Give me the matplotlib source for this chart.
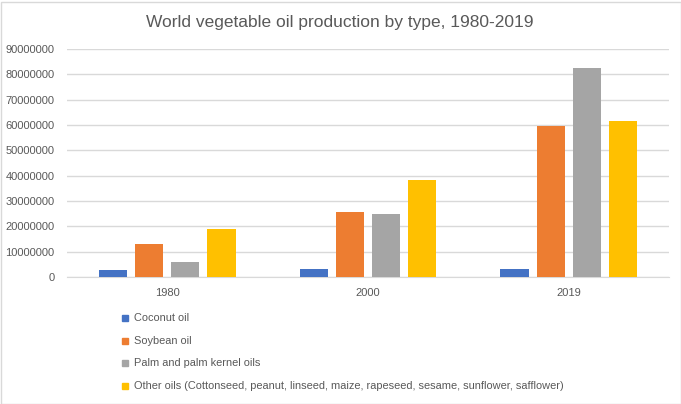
import numpy as np
import matplotlib.pyplot as plt
from matplotlib.patches import Rectangle

# 数据
years = ['1980', '2000', '2019']
series_names = ['Coconut oil', 'Soybean oil', 'Palm and palm kernel oils',
                'Other oils (Cottonseed, peanut, linseed, maize, rapeseed, sesame, sunflower, safflower)']
coconut = [2900000, 3200000, 3300000]
soybean = [13100000, 25700000, 59700000]
palm = [6000000, 24900000, 82600000]
other = [19000000, 38300000, 61500000]
colors = ['#4472C4', '#ED7D31', '#A5A5A5', '#FFC000']
yticks = np.arange(0, 90000001, 10000000)

plt.rcParams['font.family'] = ['Liberation Sans', 'DejaVu Sans']
text_color = '#595959'

fig = plt.figure(figsize=(6.81, 4.04), dpi=100)
W, H = 681, 404
ax = fig.add_axes([67 / W, 1 - 277 / H, (669 - 67) / W, (277 - 49) / H])

x = np.arange(len(years))
width = 0.14
step = 0.18
values = [coconut, soybean, palm, other]
for i, (vals, c) in enumerate(zip(values, colors)):
    ax.bar(x + (i - 1.5) * step, vals, width, color=c, zorder=3)

ax.set_xlim(-0.5, 2.5)
ax.set_ylim(0, 90000000)
ax.set_yticks(yticks)
ax.set_yticklabels([str(v) for v in yticks], fontsize=8, color=text_color)
ax.set_xticks(x)
ax.set_xticklabels(years, fontsize=8, color=text_color)
ax.tick_params(axis='both', length=0, pad=9)
ax.tick_params(axis='x', pad=8)
ax.grid(axis='y', color='#D9D9D9', linewidth=1, zorder=0)
for s in ['top', 'right', 'left']:
    ax.spines[s].set_visible(False)
ax.spines['bottom'].set_color('#D9D9D9')

fig.text(340 / W, 1 - 22 / H, 'World vegetable oil production by type, 1980-2019',
         ha='center', va='center', fontsize=12.5, color=text_color)

# 图例
rows_y = [318, 341, 363, 386]
for name, c, yy in zip(series_names, colors, rows_y):
    fig.patches.append(Rectangle((122 / W, 1 - (yy + 3) / H), 6 / W, 6 / H,
                                 transform=fig.transFigure, color=c, figure=fig))
    fig.text(134 / W, 1 - yy / H, name, ha='left', va='center', fontsize=7.9, color=text_color)

# 图表外框
fig.patches.append(Rectangle((0.5 / W, 0.5 / H), (W - 1) / W, (H - 2.5) / H,
                             transform=fig.transFigure, fill=False,
                             edgecolor='#D9D9D9', linewidth=1, figure=fig))

fig.savefig('out.png', dpi=100)
